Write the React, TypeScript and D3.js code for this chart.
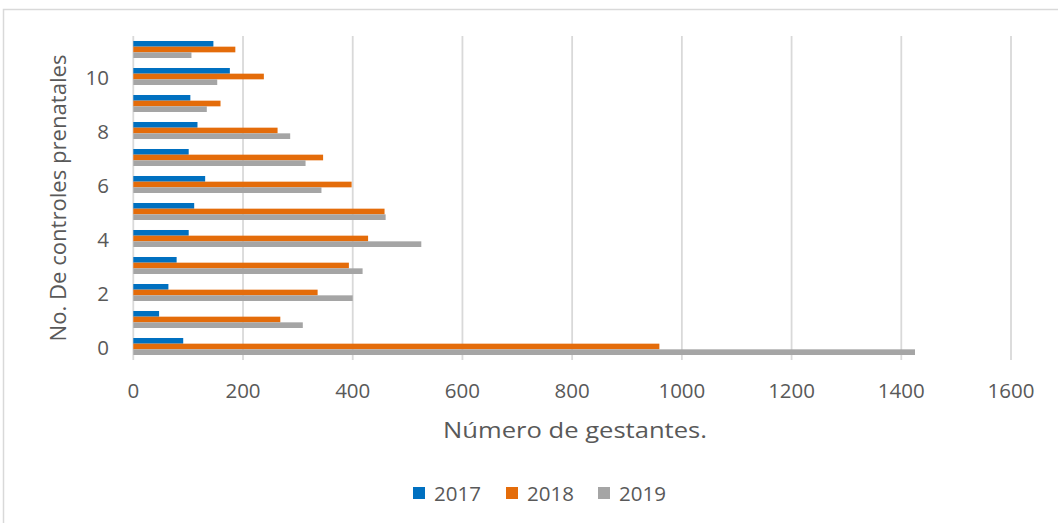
import React from "react";
import * as d3 from "d3";

const categories = ["0", "1", "2", "3", "4", "5", "6", "7", "8", "9", "10", "11"];
const series2017 = [91, 47, 64, 79, 101, 111, 131, 101, 117, 104, 176, 146];
const series2018 = [959, 268, 336, 393, 428, 458, 398, 346, 263, 159, 238, 186];
const series2019 = [1425, 309, 400, 418, 525, 460, 343, 314, 286, 134, 153, 106];
const seriesNames = ["2017", "2018", "2019"];
const seriesColors = ["#0070C0", "#E46C0A", "#A5A5A5"];
const xTicks = [0, 200, 400, 600, 800, 1000, 1200, 1400, 1600];
const yTickLabels = ["0", "2", "4", "6", "8", "10"];

const W = 1058;
const H = 523;
const plot = { left: 133.3, right: 1011, top: 36, bottom: 360 };
const font = "'Open Sans', 'Noto Sans', sans-serif";
const textColor = "#595959";

export default function App() {
  const x = d3.scaleLinear().domain([0, 1600]).range([plot.left, plot.right]);
  const y = d3
    .scaleBand<string>()
    .domain([...categories].reverse())
    .range([plot.top, plot.bottom])
    .paddingInner(0.37)
    .paddingOuter(0.185);
  const sub = d3.scaleBand<string>().domain(seriesNames).range([0, y.bandwidth()]);
  const all = [series2017, series2018, series2019];

  const legendItems = [
    { name: "2017", x: 413 },
    { name: "2018", x: 506 },
    { name: "2019", x: 598 },
  ];

  return (
    <svg
      width={W}
      height={H}
      style={{ position: "absolute", left: 0, top: 0, background: "#fff" }}
    >
      <rect x={0} y={0} width={W} height={H} fill="#fff" />
      <path d={`M3.5,${H + 5} V9.5 H${W + 5}`} fill="none" stroke="#d9d9d9" strokeWidth={1.5} />
      {xTicks.map((t) => (
        <line
          key={"g" + t}
          x1={x(t)}
          x2={x(t)}
          y1={plot.top}
          y2={plot.bottom}
          stroke="#d9d9d9"
          strokeWidth={1.8}
        />
      ))}
      {categories.map((c, i) =>
        all.map((s, k) => (
          <rect
            key={c + "-" + k}
            x={x(0)}
            y={(y(c) as number) + (sub(seriesNames[k]) as number)}
            width={x(s[i]) - x(0)}
            height={sub.bandwidth()}
            fill={seriesColors[k]}
          />
        ))
      )}
      {xTicks.map((t) => (
        <text
          key={"xt" + t}
          x={x(t)}
          y={390}
          textAnchor="middle"
          dominantBaseline="central"
          fontFamily={font}
          fontSize={20.5}
          fill={textColor}
        >
          {t}
        </text>
      ))}
      {yTickLabels.map((t) => (
        <text
          key={"yt" + t}
          x={109}
          y={(y(t) as number) + y.bandwidth() / 2}
          textAnchor="end"
          dominantBaseline="central"
          fontFamily={font}
          fontSize={20.5}
          fill={textColor}
        >
          {t}
        </text>
      ))}
      <text
        x={575}
        y={429}
        textAnchor="middle"
        dominantBaseline="central"
        fontFamily={font}
        fontSize={22}
        textLength={264}
        lengthAdjust="spacingAndGlyphs"
        fill={textColor}
      >
        Número de gestantes.
      </text>
      <text
        transform={`translate(57,${(plot.top + plot.bottom) / 2}) rotate(-90)`}
        textAnchor="middle"
        dominantBaseline="central"
        fontFamily={font}
        fontSize={22}
        textLength={287}
        lengthAdjust="spacingAndGlyphs"
        fill={textColor}
      >
        No. De controles prenatales
      </text>
      {legendItems.map((it, k) => (
        <g key={it.name}>
          <rect x={it.x} y={487} width={12} height={12} fill={seriesColors[k]} />
          <text
            x={it.x + 21}
            y={493}
            dominantBaseline="central"
            fontFamily={font}
            fontSize={20.5}
            fill={textColor}
          >
            {it.name}
          </text>
        </g>
      ))}
    </svg>
  );
}
